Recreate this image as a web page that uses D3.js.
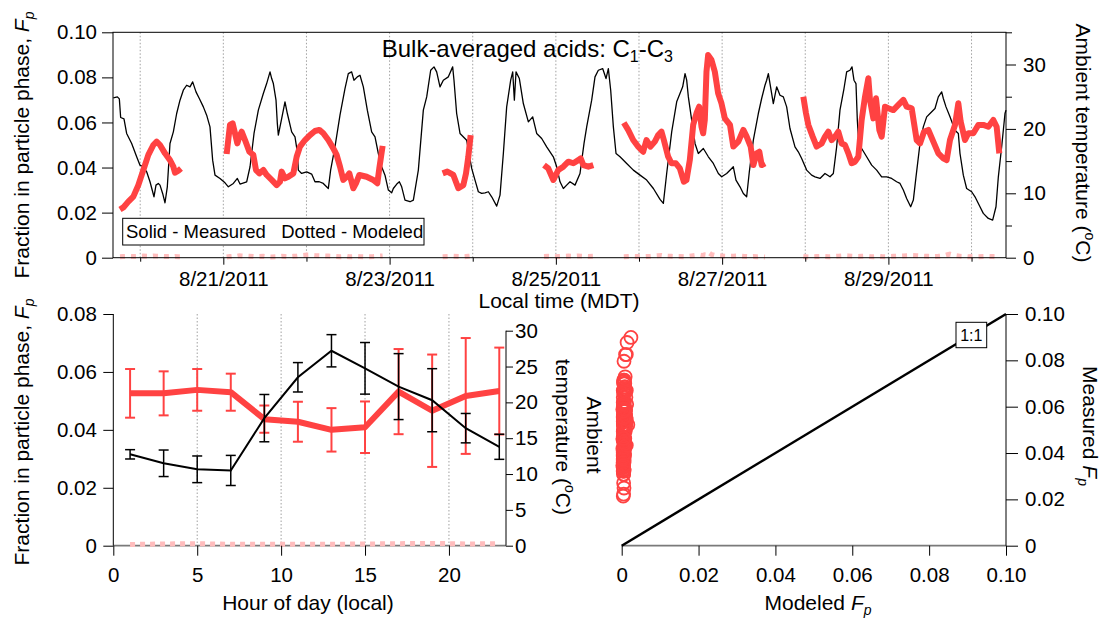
<!DOCTYPE html>
<html><head><meta charset="utf-8">
<script src="https://cdn.jsdelivr.net/npm/d3@7"></script>
<style>
body{margin:0;background:#fff;}
svg{font-family:Arial,"Liberation Sans",sans-serif;display:block;}
</style></head><body>
<svg id="chart" width="1102" height="618"></svg>
<script>
// ---------------- DATA ----------------
// Temperature time series (hours since 2011-08-20 00:00 MDT, degC)
const temperatureSeries = [[-7.76,24.82],[-6.59,24.97],[-6.02,24.66],[-5.64,21.77],[-4.68,21.56],[-3.91,19.29],[-2.46,17.74],[-1.02,15.67],[-0.06,14.37],[0.90,14.12],[1.87,13.34],[2.83,11.79],[3.98,9.46],[4.56,11.27],[5.23,11.53],[5.72,11.27],[6.48,9.98],[7.16,8.53],[7.83,11.01],[8.60,17.74],[9.57,19.54],[10.53,22.39],[11.49,24.46],[12.45,26.01],[13.41,26.78],[14.38,26.53],[15.15,27.30],[16.11,25.75],[17.07,24.72],[18.23,23.42],[19.19,22.13],[20.15,20.32],[20.92,15.15],[21.60,12.82],[23.04,12.31],[24.49,11.63],[25.45,11.01],[26.89,11.53],[28.05,12.31],[28.82,11.43],[30.74,11.79],[31.71,14.12],[32.86,19.29],[34.11,22.91],[35.55,25.49],[36.51,27.04],[37.48,28.85],[37.96,27.82],[38.44,27.04],[39.21,24.46],[39.59,20.84],[39.88,19.03],[40.84,21.61],[41.80,24.20],[42.48,22.39],[43.73,19.54],[44.69,18.77],[45.36,16.44],[45.65,13.60],[46.61,13.08],[48.06,13.34],[49.50,12.98],[50.46,11.79],[51.71,11.79],[52.86,11.53],[54.31,10.75],[54.98,13.60],[56.23,17.22],[57.68,22.13],[59.12,26.27],[60.08,28.59],[61.04,28.85],[61.72,27.56],[62.68,28.08],[63.45,28.33],[64.42,26.53],[65.57,22.91],[66.82,19.54],[67.79,18.77],[68.75,16.18],[69.71,14.12],[70.67,12.82],[71.64,10.50],[72.60,10.08],[73.08,10.75],[74.24,11.53],[74.81,11.79],[75.49,11.01],[76.45,8.95],[77.90,8.69],[78.86,8.95],[80.30,13.60],[81.74,22.91],[82.71,24.97],[83.86,29.11],[84.82,29.63],[85.59,28.85],[86.55,26.53],[87.51,27.56],[88.96,28.08],[90.21,29.63],[90.59,27.56],[91.36,22.39],[92.33,19.29],[94.25,18.25],[95.70,13.86],[96.66,12.05],[97.62,10.24],[98.58,9.98],[99.55,10.08],[100.51,10.24],[101.47,9.46],[102.92,8.01],[103.88,9.72],[104.84,16.18],[105.80,23.42],[106.96,27.56],[107.54,28.85],[108.02,24.46],[108.50,28.85],[109.46,27.82],[110.61,23.94],[112.06,21.10],[113.31,21.87],[114.46,19.29],[115.91,18.51],[117.35,17.22],[119.27,15.67],[120.24,14.12],[121.20,11.79],[122.16,10.75],[123.12,11.27],[124.09,11.79],[125.53,11.27],[126.97,13.08],[128.13,17.74],[128.90,20.32],[130.34,24.46],[131.30,28.08],[132.26,29.11],[133.51,29.37],[134.48,27.82],[135.15,29.37],[135.83,26.01],[136.60,20.32],[137.37,16.18],[138.52,15.67],[140.45,14.63],[142.37,13.60],[144.30,12.82],[146.22,12.05],[148.15,10.75],[150.07,9.05],[151.03,8.43],[151.99,13.08],[153.44,19.54],[154.88,24.20],[156.61,26.53],[157.29,28.59],[157.77,27.56],[158.25,24.97],[159.21,21.35],[160.17,17.74],[161.13,16.18],[162.58,16.96],[164.02,15.67],[165.46,14.63],[166.91,13.08],[167.87,12.56],[169.31,13.08],[170.75,13.86],[171.23,14.12],[172.00,12.05],[173.16,11.01],[174.12,9.98],[175.08,9.46],[175.85,13.34],[177.01,18.25],[178.45,22.39],[179.41,24.72],[180.37,26.78],[180.85,27.56],[181.34,28.59],[181.82,27.04],[182.78,23.94],[183.74,26.53],[184.70,25.23],[185.67,24.97],[186.63,23.42],[187.59,20.06],[189.03,17.22],[189.99,16.44],[190.96,15.41],[192.40,13.60],[193.84,12.82],[194.81,12.56],[196.25,12.31],[197.69,13.08],[199.14,12.56],[200.10,13.08],[201.06,17.22],[202.02,22.91],[203.18,26.27],[203.95,28.85],[204.91,29.11],[205.49,29.63],[206.06,27.56],[206.64,27.04],[207.03,21.35],[207.60,16.44],[208.28,16.96],[209.72,15.67],[211.17,14.37],[212.61,13.60],[214.05,12.56],[215.50,12.56],[216.94,12.31],[218.38,11.79],[219.35,11.53],[220.31,10.50],[221.27,9.20],[222.43,7.91],[223.20,8.95],[223.97,12.56],[225.12,17.74],[226.08,20.32],[227.05,21.87],[228.01,22.39],[229.45,23.16],[230.41,24.97],[231.38,25.75],[231.86,24.72],[232.63,23.42],[233.78,21.87],[235.22,19.80],[236.19,19.29],[236.67,16.18],[237.63,12.82],[238.59,10.75],[240.04,10.24],[241.00,9.46],[242.44,7.91],[243.40,6.88],[244.85,6.10],[246.10,5.84],[247.06,7.91],[247.74,12.56],[248.70,17.22],[249.66,22.39],[249.95,22.91]];

// Fp segments: [hour, measured Fp, modeled Fp]
const fpSegments = [
 [[-5.83,0.0214,0.0004],[-4.87,0.0223,0.0005],[-3.43,0.0249,0.0006],[-1.98,0.0271,0.0005],[-0.54,0.0322,0.0006],[0.91,0.0389,0.0007],[2.35,0.0456,0.0006],[3.79,0.0500,0.0008],[4.75,0.0515,0.0007],[5.72,0.0500,0.0006],[7.16,0.0463,0.0005],[8.60,0.0433,0.0006],[9.57,0.0404,0.0004],[10.05,0.0377,0.0005],[11.01,0.0386,0.0004],[11.78,0.0396,0.0004]],
 [[24.96,0.0460,0.0003],[25.92,0.0589,0.0005],[26.69,0.0596,0.0006],[27.37,0.0552,0.0008],[28.04,0.0507,0.0007],[28.62,0.0537,0.0009],[29.29,0.0559,0.0008],[30.26,0.0522,0.0007],[31.51,0.0470,0.0006],[32.66,0.0456,0.0005],[33.43,0.0389,0.0004],[34.40,0.0374,0.0005],[35.55,0.0389,0.0006],[36.51,0.0367,0.0004],[37.96,0.0345,0.0003],[39.40,0.0322,0.0004],[40.36,0.0337,0.0005],[40.84,0.0382,0.0006],[41.80,0.0352,0.0005],[42.77,0.0359,0.0004],[44.21,0.0374,0.0006],[45.17,0.0448,0.0007],[46.13,0.0493,0.0009],[47.58,0.0522,0.0011],[49.02,0.0544,0.0012],[50.46,0.0562,0.0010],[51.71,0.0567,0.0009],[52.86,0.0552,0.0008],[54.31,0.0522,0.0007],[55.75,0.0485,0.0006],[56.71,0.0456,0.0005],[57.68,0.0404,0.0004],[58.64,0.0345,0.0005],[59.60,0.0359,0.0006],[60.37,0.0374,0.0004],[61.52,0.0308,0.0005],[62.29,0.0330,0.0006],[63.26,0.0367,0.0005],[65.38,0.0359,0.0004],[67.30,0.0345,0.0005],[68.46,0.0330,0.0006],[69.03,0.0396,0.0007],[69.99,0.0496,0.0008]],
 [[87.32,0.0374,0.0004],[88.66,0.0382,0.0005],[90.40,0.0367,0.0006],[91.84,0.0308,0.0005],[93.29,0.0322,0.0004],[94.06,0.0374,0.0005],[94.73,0.0448,0.0006],[95.40,0.0544,0.0007]],
 [[116.57,0.0411,0.0005],[117.82,0.0396,0.0006],[119.27,0.0345,0.0004],[120.71,0.0389,0.0005],[122.16,0.0404,0.0006],[123.60,0.0426,0.0007],[125.05,0.0419,0.0006],[126.49,0.0433,0.0008],[127.16,0.0441,0.0007],[127.93,0.0411,0.0006],[129.38,0.0404,0.0005],[130.82,0.0411,0.0006]],
 [[139.62,0.0599,0.0004],[140.87,0.0567,0.0005],[142.32,0.0522,0.0006],[143.76,0.0493,0.0005],[145.20,0.0470,0.0004],[146.17,0.0522,0.0005],[147.32,0.0493,0.0006],[148.57,0.0515,0.0008],[149.53,0.0544,0.0009],[150.50,0.0559,0.0010],[151.17,0.0522,0.0008],[152.42,0.0448,0.0007],[153.38,0.0419,0.0006],[154.63,0.0419,0.0005],[155.79,0.0396,0.0005],[156.94,0.0337,0.0004],[157.71,0.0345,0.0005],[158.67,0.0433,0.0007],[159.64,0.0589,0.0009],[160.60,0.0641,0.0011],[161.37,0.0670,0.0012],[162.04,0.0581,0.0010],[162.52,0.0552,0.0011],[163.00,0.0611,0.0013],[163.48,0.0825,0.0012],[163.96,0.0899,0.0024],[164.93,0.0877,0.0014],[165.89,0.0825,0.0010],[166.85,0.0729,0.0009],[167.81,0.0685,0.0008],[168.78,0.0618,0.0007],[170.27,0.0589,0.0006],[171.23,0.0493,0.0007],[172.68,0.0515,0.0008],[174.12,0.0567,0.0006],[175.08,0.0537,0.0005],[176.24,0.0493,0.0004],[177.01,0.0411,0.0005],[177.97,0.0463,0.0004],[178.74,0.0470,0.0005],[179.41,0.0411,0.0004],[180.37,0.0419,0.0003]],
 [[191.44,0.0714,0.0005],[192.21,0.0641,0.0004],[192.89,0.0589,0.0003],[194.14,0.0537,0.0004],[195.29,0.0493,0.0005],[196.74,0.0507,0.0006],[197.70,0.0537,0.0005],[198.66,0.0559,0.0004],[199.62,0.0522,0.0005],[200.59,0.0537,0.0006],[201.55,0.0559,0.0007],[202.51,0.0507,0.0008],[203.47,0.0500,0.0009],[204.44,0.0463,0.0008],[205.40,0.0419,0.0007],[206.36,0.0426,0.0006],[207.32,0.0448,0.0005],[208.28,0.0611,0.0006],[209.25,0.0714,0.0007],[210.21,0.0796,0.0006],[210.69,0.0700,0.0005],[211.65,0.0618,0.0004],[212.42,0.0707,0.0005],[213.38,0.0567,0.0006],[214.06,0.0537,0.0005],[215.02,0.0670,0.0004],[215.98,0.0663,0.0005],[217.42,0.0655,0.0006],[218.87,0.0678,0.0007],[220.31,0.0700,0.0008],[221.27,0.0670,0.0009],[222.72,0.0663,0.0010],[224.16,0.0522,0.0009],[225.12,0.0507,0.0008],[226.28,0.0559,0.0007],[227.53,0.0567,0.0006],[228.97,0.0515,0.0005],[230.42,0.0463,0.0006],[231.86,0.0441,0.0008],[232.82,0.0433,0.0012],[233.78,0.0522,0.0016],[235.23,0.0589,0.0010],[236.19,0.0685,0.0008],[236.86,0.0604,0.0006],[238.11,0.0522,0.0005],[239.07,0.0552,0.0004],[240.52,0.0552,0.0005],[241.96,0.0589,0.0004],[243.40,0.0589,0.0005],[244.85,0.0581,0.0006],[246.29,0.0611,0.0005],[247.25,0.0581,0.0004],[248.02,0.0463,0.0005]]
];

// Diurnal averages (bottom-left)
const hourOfDay   = [1,3,5,7,9,11,13,15,17,19,21,23];
const fpMeasMean  = [0.0526,0.0526,0.0538,0.0530,0.0437,0.0428,0.0400,0.0409,0.0532,0.0466,0.0517,0.0534];
const fpMeasErr   = [0.0084,0.0076,0.0072,0.0064,0.0047,0.0069,0.0075,0.0089,0.0147,0.0194,0.0200,0.0150];
const fpModMean   = [0.0004,0.0006,0.0007,0.0005,0.0005,0.0005,0.0005,0.0006,0.0007,0.0008,0.0006,0.0007];
const tempMean    = [12.75,11.5,10.66,10.5,17.8,23.5,27.2,24.75,22.2,20.3,16.4,13.8];
const tempErr     = [0.65,1.85,1.86,2.1,3.3,2.05,2.25,3.6,4.6,4.4,2.05,1.75];

// Tick values
const dayTicks   = [20,21,22,23,24,25,26,27,28,29,30];
const fpTicksTop = [0,0.02,0.04,0.06,0.08,0.10];
const tTicksTop  = [0,10,20,30];
const tMinorTop  = [5,15,25,35];
const hourTicks  = [0,5,10,15,20];
const fpTicksBL  = [0,0.02,0.04,0.06,0.08];
const tTicksBL   = [0,5,10,15,20,25,30];
const fpTicksBR  = [0,0.02,0.04,0.06,0.08,0.10];

// ---------------- DRAW ----------------
(function(){
const RED = "#ff4242", PINK = "#ffbdbd", GRID = "#a0a0a0";
const svg = d3.select("#chart");
const base = new Date(2011,7,20,0,0).getTime();
const hDate = h => new Date(base + h*3600e3);
const fmt2 = d => d === 0 ? "0" : d3.format(".2f")(d);

function styleAxis(g, fs){
  g.selectAll("text").attr("fill","#000").style("font-size",fs+"px").style("font-family","Arial, 'Liberation Sans', sans-serif");
  g.selectAll("line").attr("stroke","#000");
  g.select(".domain").remove();
}
function fpLabel(sel){
  sel.append("tspan").text("Fraction in particle phase, ");
  sel.append("tspan").attr("font-style","italic").text("F");
  sel.append("tspan").attr("font-style","italic").attr("font-size","14px").attr("dy",5).text("p");
}

// ===== TOP PANEL =====
const tL=113, tR=1006, tT=32.3, tB=257.7;
const xTop = d3.scaleTime().domain([hDate(-7.85), hDate(249.95)]).range([tL,tR]);
const yFpTop = d3.scaleLinear().domain([0,0.10]).range([tB,tT]);
const yTTop = d3.scaleLinear().domain([0,35]).range([tB,tT]);
const dayDates = dayTicks.map(d => new Date(2011,7,d));

const pTop = svg.append("g");
pTop.selectAll("line.grid").data(dayDates).enter().append("line")
  .attr("x1",d=>xTop(d)).attr("x2",d=>xTop(d)).attr("y1",tT).attr("y2",tB)
  .attr("stroke",GRID).attr("stroke-width",1).attr("stroke-dasharray","1.5,2");

pTop.append("path").datum(temperatureSeries)
  .attr("d", d3.line().x(d=>xTop(hDate(d[0]))).y(d=>yTTop(d[1])))
  .attr("fill","none").attr("stroke","#000").attr("stroke-width",1.3).attr("stroke-linejoin","round");

fpSegments.forEach(seg=>{
  pTop.append("path").datum(seg)
    .attr("d", d3.line().x(d=>xTop(hDate(d[0]))).y(d=>yFpTop(d[2])))
    .attr("fill","none").attr("stroke",PINK).attr("stroke-width",5).attr("stroke-dasharray","5,6");
});
fpSegments.forEach(seg=>{
  pTop.append("path").datum(seg)
    .attr("d", d3.line().x(d=>xTop(hDate(d[0]))).y(d=>yFpTop(d[1])))
    .attr("fill","none").attr("stroke",RED).attr("stroke-width",6).attr("stroke-linejoin","round");
});

pTop.append("rect").attr("x",tL).attr("y",tT).attr("width",tR-tL).attr("height",tB-tT)
  .attr("fill","none").attr("stroke","#000").attr("stroke-width",1);

const gLT = pTop.append("g").attr("transform",`translate(${tL},0)`)
  .call(d3.axisLeft(yFpTop).tickValues(fpTicksTop).tickFormat(fmt2).tickSize(11).tickPadding(5).tickSizeOuter(0));
styleAxis(gLT,20.5);
const gRT = pTop.append("g").attr("transform",`translate(${tR},0)`)
  .call(d3.axisRight(yTTop).tickValues(tTicksTop).tickSize(10).tickPadding(7).tickSizeOuter(0));
styleAxis(gRT,20.5);
const gRTm = pTop.append("g").attr("transform",`translate(${tR},0)`)
  .call(d3.axisRight(yTTop).tickValues(tMinorTop).tickSize(6).tickFormat("").tickSizeOuter(0));
styleAxis(gRTm,20.5);
const gBT = pTop.append("g").attr("transform",`translate(0,${tB})`)
  .call(d3.axisBottom(xTop).tickValues(dayDates.filter(d=>d.getDate()%2===1)).tickFormat(d3.timeFormat("%-m/%-d/%Y")).tickSize(7).tickPadding(7).tickSizeOuter(0));
styleAxis(gBT,20.5);
const gBTm = pTop.append("g").attr("transform",`translate(0,${tB})`)
  .call(d3.axisBottom(xTop).tickValues(dayDates.filter(d=>d.getDate()%2===0)).tickFormat("").tickSize(4).tickSizeOuter(0));
styleAxis(gBTm,20.5);

pTop.append("rect").attr("x",122.7).attr("y",218.3).attr("width",301.3).attr("height",26.7)
  .attr("fill","#fff").attr("stroke","#000").attr("stroke-width",1);
pTop.append("text").attr("x",126).attr("y",237.8).style("font-size","18.5px").style("white-space","pre")
  .attr("xml:space","preserve").text("Solid - Measured   Dotted - Modeled");

const title = pTop.append("text").attr("x",381.7).attr("y",57).style("font-size","24px");
title.append("tspan").text("Bulk-averaged acids: C");
title.append("tspan").attr("font-size","16px").attr("dy",5).text("1");
title.append("tspan").attr("dy",-5).text("-C");
title.append("tspan").attr("font-size","16px").attr("dy",5).text("3");

fpLabel(pTop.append("text").attr("transform","translate(29,145) rotate(-90)").attr("text-anchor","middle").style("font-size","21px"));
const rtT = pTop.append("text").attr("transform","translate(1076,143) rotate(90)").attr("text-anchor","middle").style("font-size","21px");
rtT.append("tspan").text("Ambient temperature (");
rtT.append("tspan").attr("font-size","14px").attr("dy",-9).text("o");
rtT.append("tspan").attr("dy",9).text("C)");
pTop.append("text").attr("x",559).attr("y",308).attr("text-anchor","middle").style("font-size","21px").text("Local time (MDT)");

// ===== BOTTOM-LEFT PANEL =====
const bL=113.3, bR=506, bB=545.7;
const xBL = d3.scaleLinear().domain([0,23.4]).range([bL,bR]);
const yBLfp = d3.scaleLinear().domain([0,0.08]).range([bB,314]);
const yBLT = d3.scaleLinear().domain([0,30]).range([bB,330.7]);
const bl = svg.append("g");

bl.selectAll("line.grid").data([5,10,15,20]).enter().append("line")
  .attr("x1",d=>xBL(d)).attr("x2",d=>xBL(d)).attr("y1",314).attr("y2",bB)
  .attr("stroke",GRID).attr("stroke-width",1).attr("stroke-dasharray","1.5,2");

bl.append("line").attr("x1",bL).attr("x2",bR).attr("y1",bB).attr("y2",bB).attr("stroke","#7a7a7a").attr("stroke-width",1.8);

const diurnal = hourOfDay.map((h,i)=>({h, fp:fpMeasMean[i], fe:fpMeasErr[i], fm:fpModMean[i], t:tempMean[i], te:tempErr[i]}));

bl.append("path").datum(diurnal)
  .attr("d", d3.line().x(d=>xBL(d.h)).y(d=>yBLfp(d.fm)))
  .attr("fill","none").attr("stroke",PINK).attr("stroke-width",5).attr("stroke-dasharray","5,5");

bl.append("path").datum(diurnal)
  .attr("d", d3.line().x(d=>xBL(d.h)).y(d=>yBLfp(d.fp)))
  .attr("fill","none").attr("stroke",RED).attr("stroke-width",6).attr("stroke-linejoin","round");
const ebR = bl.append("g").attr("stroke",RED).attr("stroke-width",2);
diurnal.forEach(d=>{
  const x=xBL(d.h), y1=yBLfp(d.fp+d.fe), y2=yBLfp(d.fp-d.fe);
  ebR.append("line").attr("x1",x).attr("x2",x).attr("y1",y1).attr("y2",y2);
  ebR.append("line").attr("x1",x-5).attr("x2",x+5).attr("y1",y1).attr("y2",y1);
  ebR.append("line").attr("x1",x-5).attr("x2",x+5).attr("y1",y2).attr("y2",y2);
});

bl.append("path").datum(diurnal)
  .attr("d", d3.line().x(d=>xBL(d.h)).y(d=>yBLT(d.t)))
  .attr("fill","none").attr("stroke","#000").attr("stroke-width",2);
const ebK = bl.append("g").attr("stroke","#000").attr("stroke-width",1.5);
diurnal.forEach(d=>{
  const x=xBL(d.h), y1=yBLT(d.t+d.te), y2=yBLT(d.t-d.te);
  ebK.append("line").attr("x1",x).attr("x2",x).attr("y1",y1).attr("y2",y2);
  ebK.append("line").attr("x1",x-5).attr("x2",x+5).attr("y1",y1).attr("y2",y1);
  ebK.append("line").attr("x1",x-5).attr("x2",x+5).attr("y1",y2).attr("y2",y2);
});

bl.append("line").attr("x1",bL).attr("x2",bL).attr("y1",314).attr("y2",bB).attr("stroke","#000");
bl.append("line").attr("x1",bR).attr("x2",bR).attr("y1",330.7).attr("y2",bB).attr("stroke","#000");
const gBLl = bl.append("g").attr("transform",`translate(${bL},0)`)
  .call(d3.axisLeft(yBLfp).tickValues(fpTicksBL).tickFormat(fmt2).tickSize(10).tickPadding(6.5).tickSizeOuter(0));
styleAxis(gBLl,20.5);
const gBLr = bl.append("g").attr("transform",`translate(${bR},0)`)
  .call(d3.axisRight(yBLT).tickValues(tTicksBL).tickSize(7).tickPadding(2).tickSizeOuter(0));
styleAxis(gBLr,20.5);
const gBLb = bl.append("g").attr("transform",`translate(0,${bB})`)
  .call(d3.axisBottom(xBL).tickValues(hourTicks).tickSize(10).tickPadding(11.5).tickSizeOuter(0));
styleAxis(gBLb,20.5);

fpLabel(bl.append("text").attr("transform","translate(29,432) rotate(-90)").attr("text-anchor","middle").style("font-size","21px"));
bl.append("text").attr("transform","translate(586.5,435) rotate(90)").attr("text-anchor","middle").style("font-size","21px").text("Ambient");
const blT = bl.append("text").attr("transform","translate(555.5,437) rotate(90)").attr("text-anchor","middle").style("font-size","21px");
blT.append("tspan").text("temperature (");
blT.append("tspan").attr("font-size","14px").attr("dy",-9).text("o");
blT.append("tspan").attr("dy",9).text("C)");
bl.append("text").attr("x",308).attr("y",610).attr("text-anchor","middle").style("font-size","21px").text("Hour of day (local)");

// ===== BOTTOM-RIGHT PANEL =====
const rL=621.7, rR=1006, rB=545.7, rT=314;
const xBR = d3.scaleLinear().domain([0,0.10]).range([rL,rR]);
const yBR = d3.scaleLinear().domain([0,0.10]).range([rB,rT]);
const br = svg.append("g");

br.append("line").attr("x1",rL).attr("x2",rR).attr("y1",rB).attr("y2",rB).attr("stroke","#7a7a7a").attr("stroke-width",1.8);
br.append("line").attr("x1",rR).attr("x2",rR).attr("y1",rT).attr("y2",rB).attr("stroke","#000");

br.append("line").attr("x1",xBR(0)).attr("y1",yBR(0)).attr("x2",xBR(0.10)).attr("y2",yBR(0.10))
  .attr("stroke","#000").attr("stroke-width",2.5);

const scatter = fpSegments.flat();
br.selectAll("circle").data(scatter).enter().append("circle")
  .attr("cx",d=>xBR(d[2])).attr("cy",d=>yBR(d[1])).attr("r",6.5)
  .attr("fill","none").attr("stroke",RED).attr("stroke-width",1.8);

const gBRb = br.append("g").attr("transform",`translate(0,${rB})`)
  .call(d3.axisBottom(xBR).tickValues(fpTicksBR).tickFormat(fmt2).tickSize(10).tickPadding(11.5).tickSizeOuter(0));
styleAxis(gBRb,20.5);
const gBRr = br.append("g").attr("transform",`translate(${rR},0)`)
  .call(d3.axisRight(yBR).tickValues(fpTicksBR).tickFormat(fmt2).tickSize(12).tickPadding(7).tickSizeOuter(0));
styleAxis(gBRr,20.5);

br.append("rect").attr("x",956).attr("y",322.3).attr("width",30.7).attr("height",25.4)
  .attr("fill","#fff").attr("stroke","#000").attr("stroke-width",1);
br.append("text").attr("x",971.3).attr("y",341).attr("text-anchor","middle").style("font-size","16px").text("1:1");

const mx = br.append("text").attr("x",818).attr("y",610).attr("text-anchor","middle").style("font-size","21px");
mx.append("tspan").text("Modeled ");
mx.append("tspan").attr("font-style","italic").text("F");
mx.append("tspan").attr("font-style","italic").attr("font-size","14px").attr("dy",5).text("p");
const my = br.append("text").attr("transform","translate(1083,426) rotate(90)").attr("text-anchor","middle").style("font-size","21px");
my.append("tspan").text("Measured ");
my.append("tspan").attr("font-style","italic").text("F");
my.append("tspan").attr("font-style","italic").attr("font-size","14px").attr("dy",5).text("p");
})();
</script>
</body></html>
